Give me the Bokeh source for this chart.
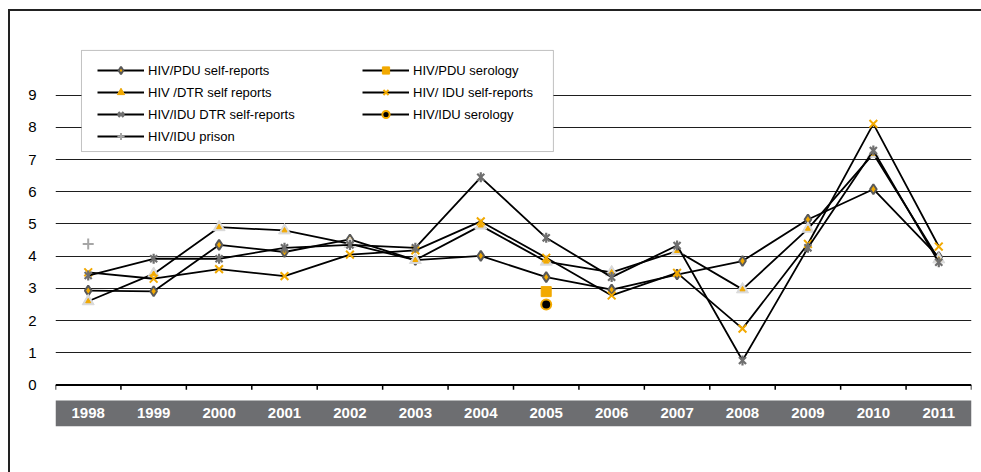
import math
from bokeh.plotting import figure
from bokeh.models import (FactorRange, Range1d, FixedTicker, BoxAnnotation, Span,
                          Legend, LegendItem, ColumnDataSource)
from bokeh.transform import dodge
from bokeh.core.properties import value
from bokeh.embed import file_html
from bokeh.resources import INLINE

NaN = float("nan")

years = ["1998", "1999", "2000", "2001", "2002", "2003", "2004",
         "2005", "2006", "2007", "2008", "2009", "2010", "2011"]
y_ticks = [0, 1, 2, 3, 4, 5, 6, 7, 8, 9]

pdu_self = [2.93, 2.91, 4.35, 4.13, 4.52, 3.88, 4.01, 3.35, 2.96, 3.43, 3.85, 5.14, 6.08, 3.97]
pdu_sero = [NaN, NaN, NaN, NaN, NaN, NaN, NaN, 2.90, NaN, NaN, NaN, NaN, NaN, NaN]
dtr_self = [2.60, 3.45, 4.90, 4.80, 4.38, 3.88, 4.95, 3.83, 3.50, 4.16, 2.97, 4.85, 7.18, 3.90]
idu_self = [3.50, 3.30, 3.60, 3.38, 4.05, 4.18, 5.08, 3.95, 2.78, 3.48, 1.75, 4.38, 8.11, 4.30]
idu_dtr = [3.40, 3.92, 3.92, 4.26, 4.35, 4.26, 6.45, 4.57, 3.35, 4.33, 0.76, 4.26, 7.28, 3.81]
idu_sero = [NaN, NaN, NaN, NaN, NaN, NaN, NaN, 2.50, NaN, NaN, NaN, NaN, NaN, NaN]
idu_prison = [4.38, NaN, NaN, NaN, NaN, NaN, NaN, NaN, NaN, NaN, NaN, NaN, NaN, NaN]

labels = ["HIV/PDU self-reports", "HIV/PDU serology", "HIV /DTR self reports",
          "HIV/ IDU self-reports", "HIV/IDU DTR self-reports", "HIV/IDU serology",
          "HIV/IDU prison"]

ORANGE = "#f2a900"
FONT = "Liberation Sans"

src = ColumnDataSource(dict(year=years, pdu_self=pdu_self, pdu_sero=pdu_sero,
                            dtr_self=dtr_self, idu_self=idu_self, idu_dtr=idu_dtr,
                            idu_sero=idu_sero, idu_prison=idu_prison))

p = figure(x_range=FactorRange(*years, range_padding=0),
           y_range=Range1d(-1.289, 10.543),
           width=981, height=472, output_backend="svg", toolbar_location=None,
           x_axis_location=None, y_axis_location="left",
           min_border_left=55, min_border_right=10, min_border_top=45, min_border_bottom=46)
p.outline_line_color = None
p.background_fill_color = "white"
p.border_fill_alpha = 0
for xg in p.xgrid:
    xg.visible = False

# outer chart border (top and left edges of the chart box) drawn behind the canvas
try:
    p.styles = {
        "background-color": "white",
        "background-image": "linear-gradient(#222222, #222222), linear-gradient(#222222, #222222)",
        "background-size": "100% 2px, 2px 100%",
        "background-position": "8px 9px, 8px 9px",
        "background-repeat": "no-repeat",
    }
except Exception:
    p.border_fill_alpha = 1
    p.border_fill_color = "white"

ax = p.yaxis[0]
ax.ticker = FixedTicker(ticks=y_ticks)
ax.axis_line_color = None
ax.major_tick_line_color = None
ax.minor_tick_line_color = None
ax.major_tick_out = 0
ax.major_tick_in = 0
ax.major_label_standoff = 19
ax.major_label_text_font = FONT
ax.major_label_text_font_size = "15px"
ax.major_label_text_color = "black"

g = p.ygrid[0]
g.ticker = FixedTicker(ticks=y_ticks[1:])
g.grid_line_color = "#1e1e1e"
g.grid_line_width = 1

# category band
p.add_layout(BoxAnnotation(top=-0.48, fill_color="#6d6e71", fill_alpha=1, line_color=None,
                           level="underlay"))
# zero axis line and ticks
p.add_layout(Span(location=0, dimension="width", line_color="black", line_width=2))
p.segment(x0=dodge("year", -0.5, range=p.x_range), x1=dodge("year", -0.5, range=p.x_range),
          y0=0, y1=-0.15, source=src, line_color="black", line_width=1.5)
last = ColumnDataSource(dict(year=[years[-1]]))
p.segment(x0=dodge("year", 0.5, range=p.x_range), x1=dodge("year", 0.5, range=p.x_range),
          y0=0, y1=-0.15, source=last, line_color="black", line_width=1.5)

p.text(x="year", y=-0.88, text="year", source=src, text_color="white",
       text_font=value(FONT), text_font_style="bold", text_font_size="15px",
       text_align="center", text_baseline="middle")

LW = 1.8
items = []

# 1 PDU self-reports
r_l = p.line("year", "pdu_self", source=src, line_color="black", line_width=LW)
r_m = p.scatter("year", "pdu_self", source=src, marker="diamond", size=10,
                fill_color=ORANGE, line_color="#595959", line_width=2)
items.append(LegendItem(label=labels[0], renderers=[r_l, r_m]))

# 2 PDU serology
r_l = p.line("year", "pdu_sero", source=src, line_color="black", line_width=LW)
r_m = p.scatter("year", "pdu_sero", source=src, marker="square", size=10,
                fill_color=ORANGE, line_color=ORANGE)
items.append(LegendItem(label=labels[1], renderers=[r_l, r_m]))

# 3 DTR self reports
r_l = p.line("year", "dtr_self", source=src, line_color="black", line_width=LW)
r_m1 = p.scatter("year", "dtr_self", source=src, marker="triangle", size=12,
                 fill_color="#d9d9d9", line_color="#d9d9d9")
r_m2 = p.scatter("year", "dtr_self", source=src, marker="triangle", size=5,
                 fill_color=ORANGE, line_color=ORANGE)
items.append(LegendItem(label=labels[2], renderers=[r_l, r_m1, r_m2]))

# 4 IDU self-reports
r_l = p.line("year", "idu_self", source=src, line_color="black", line_width=LW)
r_m = p.scatter("year", "idu_self", source=src, marker="x", size=11,
                line_color=ORANGE, line_width=2)
items.append(LegendItem(label=labels[3], renderers=[r_l, r_m]))

# 5 IDU DTR self-reports
r_l = p.line("year", "idu_dtr", source=src, line_color="black", line_width=LW)
r_m1 = p.scatter("year", "idu_dtr", source=src, marker="x", size=10,
                 line_color="#6f6f6f", line_width=2.2)
r_m2 = p.scatter("year", "idu_dtr", source=src, marker="dash", size=10, angle=math.pi / 2,
                 line_color="#6f6f6f", line_width=2.2)
items.append(LegendItem(label=labels[4], renderers=[r_l, r_m1, r_m2]))

# 6 IDU serology
r_l = p.line("year", "idu_sero", source=src, line_color="black", line_width=LW)
r_m = p.scatter("year", "idu_sero", source=src, marker="circle", size=10,
                fill_color="black", line_color=ORANGE, line_width=2)
items.append(LegendItem(label=labels[5], renderers=[r_l, r_m]))

# 7 IDU prison
r_l = p.line("year", "idu_prison", source=src, line_color="black", line_width=LW)
r_m = p.scatter("year", "idu_prison", source=src, marker="cross", size=11,
                line_color="#a6a6a6", line_width=2)
items.append(LegendItem(label=labels[6], renderers=[r_l, r_m]))

# legend frame
p.add_layout(BoxAnnotation(left=0.397, right=7.61, top=10.39, bottom=7.25,
                           fill_color="white", fill_alpha=1, line_color="#333333",
                           line_width=1, level="annotation"))


def make_legend(its, loc):
    lg = Legend(items=its, location=loc, orientation="vertical",
                border_line_color=None, background_fill_alpha=0,
                padding=0, margin=0, spacing=4, glyph_width=47, glyph_height=18,
                label_height=18, label_standoff=4,
                label_text_font=FONT, label_text_font_size="13px",
                label_text_color="black")
    p.add_layout(lg, "center")
    return lg


make_legend([items[0], items[2], items[4], items[6]], (42, 281))
make_legend([items[1], items[3], items[5]], (307, 303))

open("out.html", "w").write(file_html(p, INLINE))
